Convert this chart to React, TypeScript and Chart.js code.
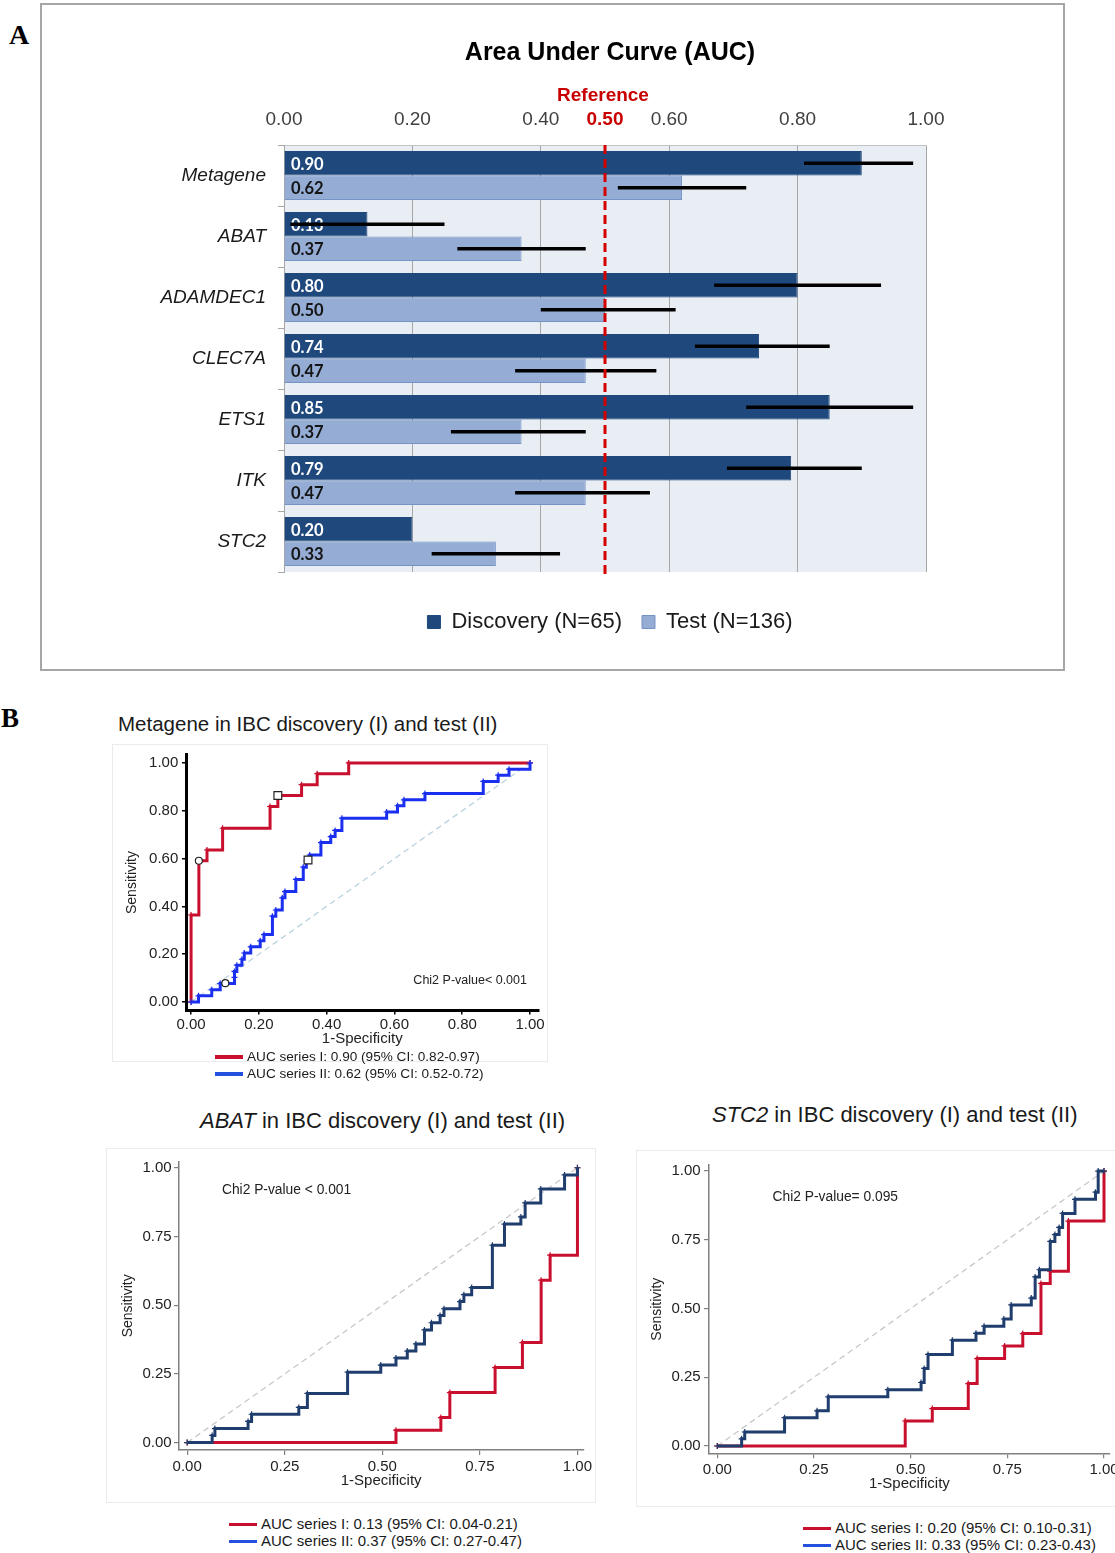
import React, { useEffect, useRef } from 'react';
import { Chart, registerables } from 'chart.js';

Chart.register(...registerables);

const SANS = "'Liberation Sans', Arial, Helvetica, sans-serif";
const SERIF = "'Liberation Serif', 'DejaVu Serif', serif";
Chart.defaults.font.family = SANS;

// ---------------- Panel A data ----------------
const CATEGORIES = ['Metagene', 'ABAT', 'ADAMDEC1', 'CLEC7A', 'ETS1', 'ITK', 'STC2'];
const SERIES_NAMES = ['Discovery (N=65)', 'Test (N=136)'];
const DISCOVERY_AUC = [0.9, 0.13, 0.8, 0.74, 0.85, 0.79, 0.2];
const TEST_AUC = [0.62, 0.37, 0.5, 0.47, 0.37, 0.47, 0.33];
const DISCOVERY_CI_LOW = [0.81, 0.01, 0.67, 0.64, 0.72, 0.69, null];
const DISCOVERY_CI_HIGH = [0.98, 0.25, 0.93, 0.85, 0.98, 0.9, null];
const TEST_CI_LOW = [0.52, 0.27, 0.4, 0.36, 0.26, 0.36, 0.23];
const TEST_CI_HIGH = [0.72, 0.47, 0.61, 0.58, 0.47, 0.57, 0.43];
const AUC_TICKS = [0, 0.2, 0.4, 0.6, 0.8, 1.0];
const REFERENCE_AUC = 0.5;

// ---------------- Panel B data ----------------
const ROC_GENES = ['Metagene', 'ABAT', 'STC2'];
const ROC1_TICKS = [0, 0.2, 0.4, 0.6, 0.8, 1.0];
const ROC23_TICKS = [0, 0.25, 0.5, 0.75, 1.0];
const DIAGONAL = [0, 1];

const META_I_FPR = [0, 0, 0.023, 0.047, 0.093, 0.233, 0.256, 0.326, 0.372, 0.465, 1.0];
const META_I_TPR = [0, 0.364, 0.591, 0.636, 0.727, 0.818, 0.864, 0.909, 0.955, 1.0, 1.0];
const META_II_FPR = [0, 0.022, 0.061, 0.086, 0.128, 0.128, 0.135, 0.15, 0.157, 0.176, 0.204, 0.215, 0.24, 0.25, 0.269, 0.277, 0.309, 0.331, 0.34, 0.35, 0.383, 0.412, 0.425, 0.445, 0.577, 0.609, 0.628, 0.69, 0.862, 0.906, 0.938, 1.0];
const META_II_TPR = [0, 0.026, 0.051, 0.077, 0.103, 0.128, 0.154, 0.179, 0.205, 0.231, 0.256, 0.282, 0.359, 0.385, 0.436, 0.462, 0.513, 0.564, 0.59, 0.615, 0.667, 0.692, 0.718, 0.769, 0.795, 0.821, 0.846, 0.872, 0.923, 0.949, 0.974, 1.0];
const META_CUT_FPR = [0.023, 0.256, 0.101, 0.345];
const META_CUT_TPR = [0.591, 0.864, 0.079, 0.594];
const META_CUT_STYLE = ['circle', 'rect', 'circle', 'rect'];

const ABAT_I_FPR = [0, 0.535, 0.65, 0.673, 0.789, 0.859, 0.907, 0.93, 1.0];
const ABAT_I_TPR = [0, 0.045, 0.091, 0.182, 0.273, 0.364, 0.591, 0.682, 1.0];
const ABAT_II_FPR = [0, 0.064, 0.071, 0.156, 0.165, 0.286, 0.308, 0.411, 0.496, 0.535, 0.564, 0.586, 0.608, 0.626, 0.648, 0.658, 0.699, 0.709, 0.729, 0.782, 0.813, 0.855, 0.866, 0.906, 0.967, 1.0];
const ABAT_II_TPR = [0, 0.026, 0.051, 0.077, 0.103, 0.128, 0.179, 0.256, 0.282, 0.308, 0.333, 0.359, 0.41, 0.436, 0.462, 0.487, 0.513, 0.538, 0.564, 0.718, 0.795, 0.821, 0.872, 0.923, 0.974, 1.0];

const STC2_I_FPR = [0, 0.486, 0.556, 0.649, 0.672, 0.743, 0.79, 0.837, 0.861, 0.908, 1.0];
const STC2_I_TPR = [0, 0.091, 0.136, 0.227, 0.318, 0.364, 0.409, 0.591, 0.636, 0.818, 1.0];
const STC2_II_FPR = [0, 0.063, 0.071, 0.174, 0.258, 0.287, 0.441, 0.527, 0.535, 0.545, 0.608, 0.669, 0.69, 0.741, 0.76, 0.812, 0.822, 0.833, 0.861, 0.873, 0.884, 0.893, 0.925, 0.978, 0.985, 1.0];
const STC2_II_TPR = [0, 0.026, 0.051, 0.103, 0.128, 0.179, 0.205, 0.231, 0.282, 0.333, 0.385, 0.41, 0.436, 0.462, 0.513, 0.538, 0.615, 0.641, 0.744, 0.769, 0.795, 0.846, 0.897, 0.923, 1.0, 1.0];

const META_LEGEND = ['AUC series I: 0.90 (95% CI: 0.82-0.97)', 'AUC series II: 0.62 (95% CI: 0.52-0.72)'];
const ABAT_LEGEND = ['AUC series I: 0.13 (95% CI: 0.04-0.21)', 'AUC series II: 0.37 (95% CI: 0.27-0.47)'];
const STC2_LEGEND = ['AUC series I: 0.20 (95% CI: 0.10-0.31)', 'AUC series II: 0.33 (95% CI: 0.23-0.43)'];

const RED = '#c8102e';
const BLUE_BRIGHT = '#1a2ff0';
const NAVY = '#1f3d6d';
const LEGEND_BLUE = '#2450e0';

// ---------------- Panel A ----------------
const panelAPlugin = {
  id: 'panelA',
  beforeDraw(chart: any) {
    const { ctx, chartArea: a } = chart;
    ctx.save();
    ctx.fillStyle = '#e9edf4';
    ctx.fillRect(a.left, a.top, a.right - a.left, a.bottom - a.top);
    ctx.restore();
  },
  afterDatasetsDraw(chart: any) {
    const { ctx, chartArea: a, scales } = chart;
    const xs = scales.x;
    const cis = [
      { lo: DISCOVERY_CI_LOW, hi: DISCOVERY_CI_HIGH, text: '#ffffff' },
      { lo: TEST_CI_LOW, hi: TEST_CI_HIGH, text: '#141414' },
    ];
    ctx.save();
    chart.data.datasets.forEach((ds: any, i: number) => {
      const meta = chart.getDatasetMeta(i);
      meta.data.forEach((bar: any, j: number) => {
        ctx.font = "bold 16.5px Lato, 'Liberation Sans', sans-serif";
        ctx.fillStyle = cis[i].text;
        ctx.textAlign = 'left';
        ctx.textBaseline = 'middle';
        ctx.fillText(Number(ds.data[j]).toFixed(2), a.left + 7, bar.y + 1);
      });
    });
    chart.data.datasets.forEach((_ds: any, i: number) => {
      const meta = chart.getDatasetMeta(i);
      meta.data.forEach((bar: any, j: number) => {
        const lo = cis[i].lo[j];
        const hi = cis[i].hi[j];
        if (lo == null || hi == null) return;
        ctx.beginPath();
        ctx.strokeStyle = '#000';
        ctx.lineWidth = 3.5;
        ctx.lineCap = 'butt';
        ctx.moveTo(xs.getPixelForValue(lo), bar.y);
        ctx.lineTo(xs.getPixelForValue(hi), bar.y);
        ctx.stroke();
      });
    });
    const rx = xs.getPixelForValue(REFERENCE_AUC);
    ctx.beginPath();
    ctx.setLineDash([9, 5]);
    ctx.strokeStyle = '#d40000';
    ctx.lineWidth = 3;
    ctx.moveTo(rx, a.top);
    ctx.lineTo(rx, a.bottom + 3);
    ctx.stroke();
    ctx.setLineDash([]);
    ctx.fillStyle = '#c80000';
    ctx.textAlign = 'center';
    ctx.textBaseline = 'middle';
    ctx.font = `bold 19px ${SANS}`;
    ctx.fillText('Reference', rx - 2, a.top - 49);
    ctx.font = `bold 19px ${SANS}`;
    ctx.fillText(REFERENCE_AUC.toFixed(2), rx, a.top - 25);
    ctx.restore();
  },
};

function panelAConfig(): any {
  return {
    type: 'bar',
    data: {
      labels: CATEGORIES,
      datasets: [
        {
          label: SERIES_NAMES[0],
          data: DISCOVERY_AUC,
          backgroundColor: '#1f497d',
          borderColor: '#1f497d',
          borderWidth: 1,
          categoryPercentage: 0.8,
          barPercentage: 1,
        },
        {
          label: SERIES_NAMES[1],
          data: TEST_AUC,
          backgroundColor: '#95acd5',
          borderColor: '#7693c6',
          borderWidth: 1,
          categoryPercentage: 0.8,
          barPercentage: 1,
        },
      ],
    },
    options: {
      indexAxis: 'y',
      responsive: false,
      animation: false,
      devicePixelRatio: 1,
      layout: { padding: { left: 0, right: 0, top: 0, bottom: 22 } },
      scales: {
        x: {
          position: 'top',
          min: 0,
          max: 1,
          afterBuildTicks: (s: any) => {
            s.ticks = AUC_TICKS.map((v) => ({ value: v }));
          },
          afterFit: (s: any) => {
            s.height = 40;
          },
          ticks: {
            padding: 14,
            font: { size: 19 },
            color: '#404040',
            callback: (v: any) => Number(v).toFixed(2),
          },
          grid: { color: '#a6a6a6', drawTicks: false },
          border: { display: true, color: '#c4c4c4' },
        },
        y: {
          afterFit: (s: any) => {
            s.width = 129;
          },
          ticks: { padding: 12, font: { size: 19, style: 'italic' }, color: '#1a1a1a' },
          grid: { drawOnChartArea: false, drawTicks: true, tickLength: 6, color: '#a6a6a6', offset: true },
          border: { display: true, color: '#a6a6a6' },
        },
        yr: {
          type: 'linear',
          position: 'right',
          display: true,
          ticks: { display: false },
          grid: { display: false },
          border: { display: false },
          afterFit: (s: any) => {
            s.width = 139;
          },
        },
      },
      plugins: {
        title: {
          display: true,
          text: 'Area Under Curve (AUC)',
          font: { size: 25, weight: 'bold' },
          color: '#000',
          padding: { top: 28.2, bottom: 36.8 },
        },
        legend: {
          position: 'bottom',
          title: { display: true, text: '', font: { size: 5 }, padding: { top: 0, bottom: 13 } },
          labels: { boxWidth: 13, boxHeight: 13, padding: 20, font: { size: 22 }, color: '#1a1a1a' },
        },
        tooltip: { enabled: false },
      },
    },
    plugins: [panelAPlugin],
  };
}

// ---------------- Panel B (ROC) ----------------
const notePlugin = {
  id: 'rocNote',
  afterDraw(chart: any, _args: any, opts: any) {
    const { ctx, scales } = chart;
    ctx.save();
    ctx.font = `${opts.size}px ${SANS}`;
    ctx.fillStyle = '#222';
    ctx.textAlign = opts.align;
    ctx.textBaseline = 'middle';
    ctx.fillText(opts.text, scales.x.getPixelForValue(opts.x), scales.y.getPixelForValue(opts.y));
    ctx.restore();
  },
};

function toPoints(xs: number[], ys: number[]) {
  return xs.map((x, i) => ({ x, y: ys[i] }));
}

function rocConfig(spec: any): any {
  const datasets: any[] = [];
  if (spec.cutoffs) {
    datasets.push({
      data: toPoints(spec.cutoffs.fpr, spec.cutoffs.tpr),
      showLine: false,
      pointStyle: spec.cutoffs.style,
      pointRadius: [3.5, 5.5, 3.5, 5.5],
      pointBackgroundColor: '#ffffff',
      pointBorderColor: '#222',
      pointBorderWidth: 1.2,
      order: 0,
    });
  }
  spec.series.forEach((s: any, k: number) => {
    datasets.push({
      data: toPoints(s.fpr, s.tpr),
      borderColor: s.color,
      borderWidth: 3,
      stepped: 'before',
      fill: false,
      pointStyle: 'cross',
      pointRadius: 3,
      pointBorderColor: s.color,
      pointBorderWidth: 1.2,
      order: 3 - k,
    });
  });
  datasets.push({
    data: toPoints(DIAGONAL, DIAGONAL),
    borderColor: spec.diagColor,
    borderWidth: 1.3,
    borderDash: [6, 4],
    pointRadius: 0,
    fill: false,
    order: 4,
  });
  const tickFmt = (v: any) => Number(v).toFixed(2);
  return {
    type: 'line',
    data: { datasets },
    options: {
      responsive: false,
      animation: false,
      devicePixelRatio: 1,
      layout: { padding: { left: 0, top: spec.pad.top, right: spec.pad.right, bottom: 0 } },
      scales: {
        x: {
          type: 'linear',
          min: spec.xRange[0],
          max: spec.xRange[1],
          afterBuildTicks: (s: any) => {
            s.ticks = spec.ticks.map((v: number) => ({ value: v }));
          },
          afterFit: (s: any) => {
            s.height = spec.xHeight;
            s.paddingLeft = 0;
            s.paddingRight = 0;
          },
          ticks: { font: { size: 15 }, color: '#222', padding: spec.xTickPad, callback: tickFmt, maxRotation: 0, autoSkip: false },
          grid: { drawOnChartArea: false, drawTicks: true, tickLength: spec.tickLen, color: spec.axisColor, lineWidth: spec.tickWidth },
          border: { display: true, color: spec.axisColor, width: spec.axisWidth },
          title: { display: true, text: '1-Specificity', font: { size: 15 }, color: '#222', padding: { top: 0, bottom: spec.xTitlePad } },
        },
        y: {
          type: 'linear',
          min: spec.yRange[0],
          max: spec.yRange[1],
          afterBuildTicks: (s: any) => {
            s.ticks = spec.ticks.map((v: number) => ({ value: v }));
          },
          afterFit: (s: any) => {
            s.width = spec.yWidth;
            s.paddingTop = 0;
            s.paddingBottom = 0;
          },
          ticks: { font: { size: 15 }, color: '#222', padding: spec.yTickPad, callback: tickFmt, autoSkip: false },
          grid: { drawOnChartArea: false, drawTicks: true, tickLength: spec.tickLen, color: spec.axisColor, lineWidth: spec.tickWidth },
          border: { display: true, color: spec.axisColor, width: spec.axisWidth },
          title: { display: true, text: 'Sensitivity', font: { size: 14 }, color: '#222', padding: { top: spec.yTitlePad, bottom: 0 } },
        },
      },
      plugins: {
        legend: { display: false },
        tooltip: { enabled: false },
        rocNote: spec.note,
      },
    },
    plugins: [notePlugin],
  };
}

const ROC1_SPEC = {
  series: [
    { fpr: META_I_FPR, tpr: META_I_TPR, color: RED },
    { fpr: META_II_FPR, tpr: META_II_TPR, color: BLUE_BRIGHT },
  ],
  cutoffs: { fpr: META_CUT_FPR, tpr: META_CUT_TPR, style: META_CUT_STYLE },
  diagColor: '#b9d3df',
  axisColor: '#000',
  axisWidth: 3,
  tickWidth: 1.5,
  ticks: ROC1_TICKS,
  xRange: [-0.015, 1.025],
  yRange: [-0.035, 1.035],
  pad: { top: 9.6, right: 9.5 },
  yWidth: 73,
  xHeight: 39.6,
  tickLen: 4,
  yTitlePad: 10.3,
  yTickPad: 3.7,
  xTickPad: 1,
  xTitlePad: 2,
  note: { text: 'Chi2 P-value< 0.001', x: 0.991, y: 0.088, align: 'right', size: 12.5 },
};

const ROC2_SPEC = {
  series: [
    { fpr: ABAT_I_FPR, tpr: ABAT_I_TPR, color: RED },
    { fpr: ABAT_II_FPR, tpr: ABAT_II_TPR, color: NAVY },
  ],
  diagColor: '#c8c8c8',
  axisColor: '#808080',
  axisWidth: 1.5,
  tickWidth: 1.2,
  ticks: ROC23_TICKS,
  xRange: [-0.021, 1.015],
  yRange: [-0.027, 1.022],
  pad: { top: 13.7, right: 12.7 },
  yWidth: 73,
  xHeight: 53,
  tickLen: 5,
  yTitlePad: 13.3,
  yTickPad: 2.3,
  xTickPad: 2.7,
  xTitlePad: 13.3,
  note: { text: 'Chi2 P-value < 0.001', x: 0.089, y: 0.919, align: 'left', size: 13.8 },
};

const ROC3_SPEC = {
  series: [
    { fpr: STC2_I_FPR, tpr: STC2_I_TPR, color: RED },
    { fpr: STC2_II_FPR, tpr: STC2_II_TPR, color: NAVY },
  ],
  diagColor: '#c8c8c8',
  axisColor: '#808080',
  axisWidth: 1.5,
  tickWidth: 1.2,
  ticks: ROC23_TICKS,
  xRange: [-0.0214, 1.015],
  yRange: [-0.0265, 1.022],
  pad: { top: 15, right: 3 },
  yWidth: 73,
  xHeight: 53.7,
  tickLen: 5,
  yTitlePad: 12.9,
  yTickPad: 3.3,
  xTickPad: 2.7,
  xTitlePad: 14,
  note: { text: 'Chi2 P-value= 0.095', x: 0.143, y: 0.905, align: 'left', size: 13.8 },
};

// ---------------- Components ----------------
function ChartCanvas(props: { left: number; top: number; width: number; height: number; make: () => any }) {
  const ref = useRef<HTMLCanvasElement | null>(null);
  useEffect(() => {
    const chart = new Chart(ref.current as HTMLCanvasElement, props.make());
    return () => chart.destroy();
  }, []);
  return (
    <canvas
      ref={ref}
      width={props.width}
      height={props.height}
      style={{ position: 'absolute', left: props.left, top: props.top, width: props.width, height: props.height }}
    />
  );
}

function RocLegend(props: { left: number; top: number; size: number; texts: string[] }) {
  const colors = [RED, LEGEND_BLUE];
  return (
    <div
      style={{
        position: 'absolute',
        left: props.left,
        top: props.top,
        fontFamily: SANS,
        fontSize: props.size,
        lineHeight: '17px',
        color: '#1a1a1a',
        whiteSpace: 'nowrap',
      }}
    >
      {props.texts.map((t, i) => (
        <div key={i}>
          <span
            style={{
              display: 'inline-block',
              width: 28,
              height: 3.5,
              background: colors[i],
              verticalAlign: 'middle',
              marginRight: 4,
            }}
          />
          {t}
        </div>
      ))}
    </div>
  );
}

function Box(props: { left: number; top: number; width: number; height: number; border: string }) {
  return (
    <div
      style={{
        position: 'absolute',
        left: props.left,
        top: props.top,
        width: props.width,
        height: props.height,
        border: props.border,
        boxSizing: 'border-box',
      }}
    />
  );
}

export default function App() {
  const titleStyle = (left: number, top: number, size: number): React.CSSProperties => ({
    position: 'absolute',
    left,
    top,
    fontFamily: SANS,
    fontSize: size,
    lineHeight: '24px',
    color: '#1a1a1a',
    whiteSpace: 'nowrap',
  });
  return (
    <div style={{ position: 'absolute', left: 0, top: 0, width: 1115, height: 1553, overflow: 'hidden', background: '#fff' }}>
      {/* Panel A */}
      <Box left={40} top={3} width={1025} height={668} border="2px solid #a6a6a6" />
      <div style={{ position: 'absolute', left: 9, top: 19, font: `bold 28px ${SERIF}`, lineHeight: '32px', color: '#000' }}>A</div>
      <ChartCanvas left={155} top={10} width={910} height={655} make={panelAConfig} />

      {/* Panel B */}
      <div style={{ position: 'absolute', left: 1, top: 702, font: `bold 27px ${SERIF}`, lineHeight: '32px', color: '#000' }}>B</div>

      <div style={titleStyle(118, 712, 20.5)}>{ROC_GENES[0]} in IBC discovery (I) and test (II)</div>
      <Box left={112} top={744} width={436} height={318} border="1px solid #e8ecee" />
      <ChartCanvas left={113} top={745} width={435} height={305} make={() => rocConfig(ROC1_SPEC)} />
      <RocLegend left={215} top={1047.5} size={13.6} texts={META_LEGEND} />

      <div style={titleStyle(200, 1109, 22)}>
        <i>{ROC_GENES[1]}</i> in IBC discovery (I) and test (II)
      </div>
      <Box left={106} top={1148} width={490} height={355} border="1px solid #e8ecee" />
      <ChartCanvas left={106} top={1148} width={490} height={355} make={() => rocConfig(ROC2_SPEC)} />
      <RocLegend left={229} top={1514.5} size={15} texts={ABAT_LEGEND} />

      <div style={titleStyle(712, 1103, 22)}>
        <i>{ROC_GENES[2]}</i> in IBC discovery (I) and test (II)
      </div>
      <Box left={636} top={1150} width={490} height={357} border="1px solid #e8ecee" />
      <ChartCanvas left={636} top={1150} width={479} height={357} make={() => rocConfig(ROC3_SPEC)} />
      <RocLegend left={803} top={1518.5} size={15} texts={STC2_LEGEND} />
    </div>
  );
}
